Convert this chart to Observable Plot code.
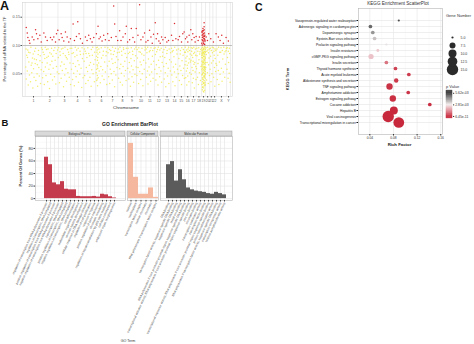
<!DOCTYPE html>
<html><head><meta charset="utf-8">
<script src="https://cdn.jsdelivr.net/npm/d3@7"></script>
<script src="https://cdn.jsdelivr.net/npm/@observablehq/plot@0.6"></script>
<style>
html,body{margin:0;padding:0;background:#fff;}
#fig{position:relative;width:474px;height:344px;overflow:hidden;background:#fff;}
#fig svg{overflow:visible;position:absolute;}
</style></head><body><div id="fig"></div>
<script>
// ---------- Panel A data ----------
const chrNames = ["1","2","3","4","5","6","7","8","9","10","11","12","13","14","15","16","17","18","19","20","21","22","X","Y"];
const chrLengths = [249,243,198,190,181,171,159,145,138,134,135,133,114,107,102,90,83,80,59,64,47,51,156,57];
const threshold = 0.10;
const yTicksA = [0.05, 0.10, 0.15];
// [cumulative position (Mb), percentage]
const redPts = [
[15,0.132],[30,0.122],[40,0.114],[60,0.109],[70,0.104],[105,0.115],[130,0.110],[155,0.128],[170,0.121],[190,0.112],[220,0.118],[240,0.106],
[280,0.122],[305,0.115],[330,0.109],[380,0.114],[405,0.110],[430,0.115],[455,0.106],[470,0.121],
[490,0.127],[510,0.110],[540,0.121],[555,0.114],[580,0.108],[605,0.124],[630,0.115],[655,0.106],[680,0.112],
[720,0.138],[740,0.109],[770,0.116],[790,0.142],[810,0.121],[830,0.112],[860,0.104],
[905,0.115],[930,0.109],[955,0.118],[980,0.112],[1005,0.106],[1030,0.114],
[1070,0.121],[1095,0.134],[1110,0.112],[1130,0.115],[1155,0.108],[1180,0.118],[1205,0.110],
[1240,0.121],[1260,0.109],[1295,0.114],[1330,0.170],[1345,0.138],[1365,0.116],[1390,0.109],
[1420,0.126],[1440,0.109],[1470,0.115],[1505,0.121],[1520,0.134],[1540,0.106],
[1570,0.110],[1595,0.130],[1620,0.114],[1645,0.106],[1670,0.130],
[1695,0.118],[1720,0.172],[1740,0.110],[1770,0.115],[1795,0.122],[1815,0.106],
[1845,0.109],[1870,0.127],[1890,0.115],[1910,0.104],[1930,0.120],
[1955,0.140],[1970,0.112],[1990,0.121],[2010,0.108],[2030,0.104],[2050,0.115],[2070,0.110],
[2105,0.114],[2130,0.106],[2155,0.109],
[2200,0.118],[2220,0.109],[2245,0.139],[2265,0.112],
[2300,0.110],[2320,0.116],[2350,0.106],[2370,0.121],
[2390,0.124],[2410,0.112],[2430,0.115],[2445,0.106],[2465,0.118],
[2490,0.128],[2505,0.110],[2520,0.121],[2540,0.114],[2555,0.106],[2570,0.116],
[2600,0.109],[2620,0.115],
[2655,0.124],[2660,0.118],[2665,0.114],[2670,0.109],[2675,0.106],[2680,0.121],[2685,0.112],[2690,0.140],[2690,0.128],[2695,0.116],
[2700,0.110],[2655,0.104],[2665,0.126],[2675,0.115],[2685,0.104],[2695,0.122],[2660,0.110],[2680,0.103],[2690,0.133],[2700,0.118],
[2670,0.120],[2705,0.108],[2662,0.101],[2668,0.124],[2678,0.117],[2688,0.108],[2698,0.102],[2672,0.130],[2683,0.126],[2693,0.112],
[2720,0.115],[2740,0.109],[2760,0.121],[2790,0.112],[2830,0.106],
[2870,0.121],[2905,0.115],[2930,0.109],[2955,0.118],[2980,0.104],[3020,0.114],[3055,0.108]
];
const yellowPts = [
[8,0.062],[15,0.041],[22,0.083],[30,0.055],[38,0.092],[45,0.030],[55,0.071],[63,0.048],[72,0.087],[80,0.036],[90,0.065],[98,0.052],[108,0.078],[115,0.025],[125,0.059],[133,0.044],[142,0.090],[150,0.068],[160,0.038],[168,0.075],[178,0.050],[186,0.028],[195,0.084],[204,0.061],[212,0.046],[221,0.073],[230,0.033],[240,0.057],
[12,0.094],[34,0.079],[50,0.088],[85,0.097],[102,0.069],[120,0.085],[138,0.076],[155,0.095],[182,0.066],[200,0.091],[226,0.082],[245,0.096],
[255,0.070],[262,0.043],[270,0.088],[278,0.054],[287,0.031],[295,0.077],[303,0.062],[312,0.047],[320,0.093],[330,0.069],[338,0.036],[347,0.081],[356,0.058],[365,0.024],[374,0.066],[383,0.049],[392,0.085],[401,0.072],[410,0.039],[420,0.060],[430,0.091],[440,0.045],[450,0.074],[460,0.032],[470,0.063],[482,0.053],
[258,0.093],[283,0.084],[300,0.097],[325,0.079],[343,0.094],[370,0.087],[396,0.095],[415,0.081],[445,0.096],[465,0.086],[487,0.092],
[498,0.079],[506,0.050],[514,0.034],[522,0.089],[531,0.064],[540,0.042],[549,0.071],[558,0.056],[567,0.095],[576,0.027],[585,0.067],[594,0.048],[603,0.082],[612,0.059],[622,0.037],[632,0.076],[642,0.052],[652,0.088],[662,0.044],[672,0.069],[682,0.031],
[502,0.096],[527,0.083],[545,0.094],[571,0.086],[598,0.097],[618,0.079],[637,0.093],[657,0.084],[677,0.095],
[696,0.058],[704,0.086],[712,0.040],[720,0.068],[729,0.051],[738,0.029],[747,0.080],[756,0.063],[765,0.045],[774,0.092],[783,0.055],[792,0.073],[801,0.035],[810,0.066],[820,0.049],[830,0.084],[840,0.060],[850,0.026],[860,0.077],[870,0.043],
[700,0.095],[725,0.087],[752,0.097],[778,0.083],[797,0.095],[825,0.090],[855,0.096],[875,0.085],
[886,0.072],[894,0.047],[902,0.090],[910,0.033],[919,0.061],[928,0.079],[937,0.054],[946,0.038],[955,0.086],[964,0.065],[973,0.044],[982,0.070],[991,0.028],[1000,0.057],[1010,0.083],[1020,0.050],[1030,0.067],[1040,0.036],[1050,0.075],
[890,0.094],[915,0.086],[941,0.096],[968,0.082],[995,0.093],[1015,0.097],[1045,0.088],
[1066,0.052],[1072,0.081],[1076,0.038],[1080,0.066],[1082,0.092],[1084,0.047],[1086,0.074],[1088,0.029],[1090,0.060],[1093,0.085],[1097,0.043],[1104,0.069],[1112,0.055],[1120,0.088],[1129,0.034],[1138,0.063],[1147,0.078],[1156,0.046],[1165,0.057],[1175,0.090],[1185,0.040],[1195,0.071],[1205,0.053],[1215,0.082],[1225,0.031],
[1068,0.096],[1074,0.058],[1078,0.088],[1081,0.041],[1085,0.097],[1087,0.064],[1091,0.079],[1108,0.094],[1143,0.096],[1170,0.083],[1200,0.097],[1220,0.089],
[1238,0.064],[1246,0.087],[1254,0.045],[1262,0.072],[1270,0.033],[1278,0.058],[1286,0.091],[1294,0.050],[1302,0.076],[1310,0.039],[1318,0.068],[1326,0.084],[1335,0.054],[1344,0.027],[1353,0.070],[1362,0.048],[1371,0.080],[1380,0.061],
[1242,0.096],[1266,0.093],[1290,0.085],[1314,0.097],[1340,0.090],[1357,0.095],[1385,0.087],
[1397,0.075],[1405,0.042],[1413,0.088],[1421,0.059],[1429,0.035],[1437,0.067],[1445,0.051],[1453,0.083],[1462,0.030],[1471,0.063],[1480,0.093],[1489,0.046],[1498,0.072],[1507,0.056],[1516,0.038],[1526,0.079],
[1401,0.094],[1425,0.097],[1449,0.090],[1476,0.096],[1503,0.086],[1521,0.095],
[1542,0.060],[1550,0.086],[1558,0.041],[1566,0.070],[1574,0.053],[1582,0.028],[1590,0.077],[1598,0.064],[1606,0.045],[1614,0.090],[1622,0.057],[1630,0.035],[1640,0.073],[1650,0.049],[1660,0.082],[1668,0.062],
[1546,0.095],[1570,0.088],[1594,0.096],[1618,0.084],[1645,0.094],[1664,0.097],
[1680,0.047],[1688,0.078],[1696,0.061],[1704,0.033],[1712,0.089],[1720,0.054],[1728,0.071],[1736,0.040],[1744,0.066],[1752,0.085],[1760,0.050],[1770,0.029],[1780,0.074],[1790,0.058],[1800,0.092],
[1684,0.093],[1708,0.096],[1732,0.088],[1756,0.095],[1785,0.083],[1804,0.097],
[1814,0.069],[1822,0.044],[1830,0.087],[1838,0.055],[1846,0.032],[1854,0.076],[1862,0.062],[1870,0.048],[1878,0.091],[1886,0.037],[1894,0.067],[1902,0.053],[1912,0.081],[1922,0.042],[1932,0.072],
[1818,0.094],[1842,0.097],[1866,0.089],[1890,0.096],[1917,0.091],[1937,0.095],
[1949,0.058],[1957,0.084],[1965,0.039],[1973,0.066],[1981,0.050],[1989,0.093],[1997,0.030],[2005,0.074],[2013,0.061],[2021,0.045],[2030,0.080],[2040,0.055],[2050,0.035],[2060,0.070],[2069,0.088],
[1953,0.096],[1977,0.089],[2001,0.097],[2025,0.092],[2045,0.095],[2064,0.081],
[2082,0.063],[2090,0.041],[2098,0.079],[2106,0.052],[2114,0.027],[2122,0.068],[2130,0.086],[2140,0.046],[2150,0.060],[2160,0.033],[2170,0.075],[2182,0.055],
[2086,0.093],[2110,0.097],[2135,0.091],[2165,0.094],[2186,0.087],
[2196,0.071],[2204,0.048],[2212,0.089],[2220,0.036],[2228,0.062],[2236,0.080],[2244,0.053],[2252,0.029],[2262,0.067],[2272,0.044],[2282,0.085],[2290,0.058],
[2200,0.095],[2224,0.091],[2248,0.097],[2277,0.092],
[2302,0.050],[2310,0.077],[2318,0.038],[2326,0.064],[2334,0.091],[2342,0.056],[2350,0.031],[2358,0.073],[2366,0.047],[2374,0.083],[2382,0.060],[2392,0.042],
[2306,0.094],[2330,0.085],[2354,0.096],[2378,0.093],[2396,0.088],
[2403,0.066],[2409,0.088],[2414,0.043],[2419,0.072],[2424,0.055],[2429,0.030],[2434,0.081],[2439,0.060],[2444,0.046],[2449,0.094],[2455,0.069],[2461,0.036],[2467,0.076],[2473,0.052],[2480,0.085],
[2406,0.097],[2416,0.078],[2426,0.092],[2436,0.065],[2446,0.089],[2458,0.097],[2470,0.091],[2484,0.071],
[2493,0.074],[2498,0.049],[2503,0.090],[2508,0.061],[2513,0.034],[2518,0.079],[2523,0.056],[2528,0.042],[2533,0.086],[2538,0.067],[2544,0.025],[2550,0.070],[2556,0.053],[2562,0.083],[2568,0.040],
[2495,0.096],[2505,0.083],[2515,0.095],[2525,0.072],[2535,0.097],[2547,0.088],[2559,0.094],[2565,0.063],
[2577,0.059],[2584,0.082],[2591,0.044],[2598,0.068],[2605,0.031],[2612,0.075],[2619,0.052],[2627,0.089],[2635,0.038],[2644,0.063],
[2580,0.095],[2595,0.090],[2609,0.096],[2623,0.085],[2640,0.093],
[2655,0.095],[2656,0.072],[2657,0.048],[2658,0.086],[2659,0.031],[2660,0.064],[2661,0.091],[2662,0.055],[2663,0.022],[2664,0.078],[2665,0.043],[2666,0.069],[2667,0.097],[2668,0.036],[2669,0.060],[2670,0.083],[2671,0.051],[2672,0.027],[2673,0.074],[2674,0.089],[2675,0.040],[2676,0.066],[2677,0.093],[2678,0.057],[2679,0.019],[2680,0.080],[2681,0.046],[2682,0.071],[2683,0.034],[2684,0.087],[2685,0.062],[2686,0.025],[2687,0.076],[2688,0.053],[2689,0.094],[2690,0.038],[2691,0.068],[2692,0.084],[2693,0.029],[2694,0.059],[2695,0.090],[2696,0.045],[2697,0.073],[2698,0.021],[2699,0.063],[2700,0.081],[2701,0.050],[2702,0.035],[2703,0.096],[2704,0.067],[2705,0.042],[2706,0.077],[2707,0.054],[2708,0.088],[2709,0.030],[2710,0.070],
[2654,0.083],[2656,0.058],[2658,0.066],[2660,0.079],[2662,0.088],[2664,0.049],[2666,0.085],[2668,0.071],[2670,0.041],[2672,0.092],[2674,0.062],[2676,0.052],[2678,0.087],[2680,0.033],[2682,0.095],[2684,0.070],[2686,0.081],[2688,0.044],[2690,0.086],[2692,0.056],[2694,0.075],[2696,0.098],[2698,0.061],[2700,0.047],[2702,0.089],[2704,0.079],[2706,0.058],[2708,0.093],[2710,0.049],[2667,0.026],[2687,0.018],[2697,0.032],
[2716,0.061],[2722,0.084],[2728,0.039],[2734,0.070],[2740,0.052],[2746,0.092],[2752,0.033],[2758,0.066],[2764,0.078],[2770,0.047],
[2719,0.096],[2731,0.090],[2743,0.097],[2755,0.087],[2767,0.094],
[2780,0.058],[2787,0.081],[2794,0.036],[2801,0.069],[2808,0.050],[2815,0.087],
[2784,0.095],[2798,0.091],[2812,0.097],
[2827,0.073],[2833,0.044],[2839,0.090],[2845,0.061],[2851,0.028],[2857,0.077],[2863,0.054],[2869,0.068],
[2830,0.096],[2842,0.083],[2854,0.094],[2866,0.091],
[2880,0.065],[2888,0.040],[2896,0.083],[2904,0.056],[2912,0.031],[2920,0.071],[2930,0.049],[2940,0.088],[2950,0.060],[2960,0.037],[2970,0.076],[2980,0.053],[2990,0.085],[3000,0.044],[3010,0.067],[3020,0.091],
[2884,0.094],[2908,0.097],[2925,0.088],[2945,0.096],[2965,0.091],[2985,0.097],[3005,0.089],[3025,0.095],
[3034,0.058],[3042,0.079],[3050,0.042],[3058,0.070],[3066,0.051],[3074,0.086],[3081,0.035],
[3038,0.096],[3054,0.090],[3070,0.095]
];

// ---------- Panel B data ----------
const bpTerms = ["regulation of transcription from RNA polymerase II promoter","regulation of transcription, DNA-templated","positive regulation of transcription from RNA polymerase II promoter","negative regulation of transcription from RNA polymerase II promoter","transcription, DNA-templated","positive regulation of transcription, DNA-templated","negative regulation of transcription, DNA-templated","cell differentiation","multicellular organism development","nervous system development","cellular response to DNA damage stimulus","regulation of cell proliferation","response to hypoxia","positive regulation of gene expression","chromatin remodeling","regulation of signal transduction by p53 class mediator","cell fate commitment","embryonic organ morphogenesis"];
const bpValues = [66, 54, 25, 22, 27, 15, 14, 14, 3.5, 3, 3, 3, 3.5, 2.5, 7, 6, 3, 1];
const ccTerms = ["nucleus","nucleoplasm","transcription factor complex","nuclear chromatin","chromatin","RNA polymerase II transcription factor complex"];
const ccValues = [88, 34, 7, 7, 17, 2];
const mfTerms = ["DNA binding","transcription factor activity, sequence-specific DNA binding","sequence-specific DNA binding","metal ion binding","RNA polymerase II core promoter proximal region sequence-specific DNA binding","transcriptional activator activity, RNA polymerase II core promoter proximal region sequence-specific binding","zinc ion binding","chromatin binding","transcription coactivator activity","transcription factor binding","transcriptional repressor activity, RNA polymerase II core promoter proximal region sequence-specific binding","protein heterodimerization activity","RNA polymerase II transcription factor activity, sequence-specific DNA binding","transcription corepressor activity","histone acetyltransferase activity"];
const mfValues = [54, 59, 28, 46, 30, 17, 14, 12, 11, 10, 8, 7, 10, 8, 6];
const goTicks = [0, 20, 40, 60, 80];

// ---------- Panel C data ----------
const keggTerms = ["Vasopressin-regulated water reabsorption","Adrenergic signaling in cardiomyocytes","Dopaminergic synapse","Epstein-Barr virus infection","Prolactin signaling pathway","Insulin resistance","cGMP-PKG signaling pathway","Insulin secretion","Thyroid hormone synthesis","Acute myeloid leukemia","Aldosterone synthesis and secretion","TNF signaling pathway","Amphetamine addiction","Estrogen signaling pathway","Cocaine addiction","Hepatitis B","Viral carcinogenesis","Transcriptional misregulation in cancer"];
const keggRich = [0.089, 0.041, 0.045, 0.048, 0.068, 0.0535, 0.042, 0.068, 0.0834, 0.106, 0.0846, 0.0733, 0.105, 0.0789, 0.1415, 0.0806, 0.0711, 0.089];
const keggCount = [5, 6, 6, 6, 5, 5.5, 7, 6, 6, 6, 6.5, 8, 6, 8, 6, 10, 15, 14];
const keggP = [5.3e-3, 4.9e-3, 4.2e-3, 3.5e-3, 3.0e-3, 2.3e-3, 2.2e-3, 1.1e-3, 4.0e-4, 3.0e-4, 2.5e-4, 1.5e-4, 2.0e-4, 1.0e-4, 1.2e-4, 5e-6, 6.45e-11, 1e-8];
const sizeBreaks = [5, 7.5, 10, 12.5, 15];
const pBreaks = [6.45e-11, 2.81e-3, 5.62e-3];

// ---------- helpers ----------
const fig = document.getElementById("fig");
const FONT = "Liberation Sans, Arial, sans-serif";
const baseStyle = (fs) => ({fontFamily: FONT, fontSize: fs + "px", background: "transparent", color: "#333"});
function place(el, left, top) { el.style.left = left + "px"; el.style.top = top + "px"; fig.appendChild(el); }

// ---------- Panel A ----------
const starts = []; let acc = 0;
chrLengths.forEach(l => { starts.push(acc); acc += l; });
const centers = chrLengths.map((l, i) => starts[i] + l / 2);
const bounds = [...starts, acc];

const plotA = Plot.plot({
  width: 240, height: 112, marginLeft: 22, marginRight: 8, marginTop: 2, marginBottom: 16,
  style: baseStyle(4),
  x: {domain: [-41, 3117]},
  y: {domain: [0.0099, 0.176]},
  marks: [
    Plot.ruleY(yTicksA.filter(v => v !== threshold), {stroke: "#ececec", strokeWidth: 0.6}),
    Plot.ruleX(bounds, {stroke: "#e0e0e0", strokeWidth: 0.6}),
    Plot.dot(yellowPts, {x: d => d[0], y: d => d[1], r: 0.75, fill: "#efea4a", fillOpacity: 0.8}),
    Plot.ruleY([threshold], {stroke: "#9a9a9a", strokeWidth: 0.6}),
    Plot.dot(redPts, {x: d => d[0], y: d => d[1], r: 0.75, fill: "#dc2a2e"}),
    Plot.frame({stroke: "#d4d4d4", strokeWidth: 0.6}),
    Plot.axisX({ticks: centers, tickFormat: d => chrNames[centers.indexOf(d)], tickSize: 1.5, tickPadding: 1, fontSize: 3.6, label: null, color: "#555"}),
    Plot.axisY({ticks: yTicksA, tickFormat: ".2f", tickSize: 1.5, tickPadding: 1, fontSize: 3.8, label: null, color: "#555"})
  ]
});
place(plotA, 0, 0);

// ---------- Panel B ----------
function goPlot(terms, values, color, left, width, withY) {
  const rows = terms.map((t, i) => ({t, v: values[i]}));
  const p = Plot.plot({
    width, height: 208, marginLeft: withY ? 35 : 0, marginRight: 0, marginTop: 0, marginBottom: 144,
    style: baseStyle(3),
    x: {type: "band", domain: terms, paddingInner: 0.1, paddingOuter: 0.15},
    y: {domain: [-3, 99], axis: withY ? undefined : null},
    marks: [
      Plot.gridY({ticks: [10, 30, 50, 70, 90], stroke: "#f2f2f2", strokeOpacity: 1, strokeWidth: 0.4}),
      Plot.gridY({ticks: goTicks, stroke: "#e2e2e2", strokeOpacity: 1, strokeWidth: 0.6}),
      Plot.gridX({stroke: "#e2e2e2", strokeOpacity: 1, strokeWidth: 0.6}),
      Plot.barY(rows, {x: "t", y: "v", fill: color}),
      Plot.frame({stroke: "#b5b5b5", strokeWidth: 0.6}),
      Plot.axisX({tickRotate: -65, fontSize: 3, tickSize: 1.5, tickPadding: 0.5, label: null, color: "#444"}),
      withY ? Plot.axisY({ticks: goTicks, fontSize: 4, tickSize: 1.5, tickPadding: 1, label: null, color: "#333"}) : null
    ]
  });
  place(p, left, 136);
}
goPlot(bpTerms, bpValues, "#c43b4d", 0, 125, true);
goPlot(ccTerms, ccValues, "#f5b79d", 127, 31, false);
goPlot(mfTerms, mfValues, "#5b5b5b", 160, 72, false);

// ---------- Panel C ----------
const rScale = {type: "linear", domain: sizeBreaks, range: [1.1, 3, 4, 4.85, 5.7]};
const cScale = {type: "linear", domain: pBreaks, range: ["#c8283c", "#f4eded", "#3b3b3b"], clamp: true};
const keggRows = keggTerms.map((t, i) => ({t, rich: keggRich[i], n: keggCount[i], p: keggP[i]}));
const plotC = Plot.plot({
  width: 202, height: 150, marginLeft: 118, marginRight: 0, marginTop: 8, marginBottom: 16,
  style: baseStyle(3.3),
  x: {domain: [0.0208, 0.163]},
  y: {type: "point", domain: keggTerms, padding: 1.19},
  r: rScale,
  color: cScale,
  marks: [
    Plot.gridX({ticks: [0.06, 0.10, 0.14], stroke: "#f3f3f3", strokeOpacity: 1, strokeWidth: 0.4}),
    Plot.gridX({ticks: [0.04, 0.08, 0.12, 0.16], stroke: "#e4e4e4", strokeOpacity: 1, strokeWidth: 0.6}),
    Plot.gridY({stroke: "#e4e4e4", strokeOpacity: 1, strokeWidth: 0.6}),
    Plot.dot(keggRows, {x: "rich", y: "t", r: "n", fill: "p"}),
    Plot.frame({stroke: "#b5b5b5", strokeWidth: 0.6}),
    Plot.axisX({ticks: [0.04, 0.08, 0.12, 0.16], tickFormat: ".2f", fontSize: 3.3, tickSize: 1.5, tickPadding: 1, label: null, color: "#333"}),
    Plot.axisY({fontSize: 3.3, tickSize: 1.5, tickPadding: 1, label: null, color: "#111"})
  ]
});
place(plotC, 240, 0);

// size legend
const sizeLeg = Plot.plot({
  width: 30, height: 50, marginLeft: 0, marginRight: 10, marginTop: 10, marginBottom: 5,
  style: baseStyle(3.5),
  x: {domain: [0, 1], axis: null},
  y: {type: "point", domain: sizeBreaks, padding: 0, axis: null},
  r: rScale,
  marks: [
    Plot.dot(sizeBreaks, {x: () => 0.5, y: d => d, r: d => d, fill: "#2b2b2b"}),
    Plot.text(sizeBreaks, {x: () => 0.5, y: d => d, text: d => d.toFixed(1), dx: 8, textAnchor: "start", fill: "#333"})
  ]
});
place(sizeLeg, 442, 25);

// colour legend
const fmtE = v => v.toExponential(2).replace(/e([+-])(\d)$/, "e$10$2");
const gradStops = d3.ticks(-5e-4, 6.3e-3, 60);
const gradRows = gradStops.slice(0, -1).map((v, i) => ({y1: v, y2: gradStops[i + 1], m: (v + gradStops[i + 1]) / 2}));
const colLeg = Plot.plot({
  width: 34, height: 40, marginLeft: 6, marginRight: 22, marginTop: 5, marginBottom: 7,
  style: baseStyle(3.4),
  x: {domain: [0, 1], axis: null},
  y: {domain: [-5e-4, 6.3e-3]},
  color: cScale,
  marks: [
    Plot.rect(gradRows, {x1: 0, x2: 1, y1: "y1", y2: "y2", fill: "m", stroke: "m", strokeWidth: 0.3}),
    Plot.axisY({anchor: "right", ticks: pBreaks, tickFormat: fmtE, tickSize: 1.2, tickPadding: 1.5, label: null, color: "#333"})
  ]
});
place(colLeg, 440, 85);

// ---------- Overlay text (titles, labels, strips) ----------
const ov = d3.create("svg").attr("width", 474).attr("height", 344)
  .style("left", "0px").style("top", "0px").style("pointer-events", "none")
  .attr("font-family", FONT);
function txt(s, x, y, size, opt = {}) {
  const t = ov.append("text").attr("x", x).attr("y", y).attr("font-size", size)
    .attr("fill", opt.fill || "#222").attr("text-anchor", opt.anchor || "middle")
    .attr("dominant-baseline", opt.baseline || "central").attr("font-weight", opt.weight || "normal").text(s);
  if (opt.rotate) t.attr("transform", `rotate(${opt.rotate},${x},${y})`);
  return t;
}
txt("A", 0, 9.5, 12.5, {anchor: "start", baseline: "auto", weight: "bold", fill: "#111"});
txt("B", 1.5, 126, 9.5, {anchor: "start", baseline: "auto", weight: "bold", fill: "#111"});
txt("C", 255, 11, 10.5, {anchor: "start", baseline: "auto", weight: "bold", fill: "#111"});
txt("Percentage of sRNA related to the TF", 4.5, 49, 3.9, {rotate: -90, fill: "#333"});
txt("Chromosome", 126, 107.5, 4.3, {fill: "#333"});
txt("GO Enrichment BarPlot", 130, 123.5, 5, {weight: "bold"});
txt("Percent Of Genes (%)", 20, 166, 4, {rotate: -90, weight: "bold"});
const strips = [["Biological Process", 35, 125], ["Cellular Component", 127, 158], ["Molecular Function", 160, 232]];
strips.forEach(([s, a, b]) => {
  ov.append("rect").attr("x", a).attr("y", 131).attr("width", b - a).attr("height", 5)
    .attr("fill", "#d9d9d9").attr("stroke", "#8a8a8a").attr("stroke-width", 0.4);
  txt(s, (a + b) / 2, 133.6, 2.8, {fill: "#222"});
});
txt("GO Term", 128, 341, 3.6, {fill: "#333"});
txt("KEGG Enrichment ScatterPlot", 398, 3.2, 4.6, {fill: "#333"});
txt("KEGG Term", 287, 79, 4, {rotate: -90, weight: "bold"});
txt("Rich Factor", 399.5, 144.5, 4.3, {weight: "bold"});
txt("Gene Number", 446, 15.5, 4, {anchor: "start", fill: "#333"});
txt("p Value", 446, 86, 4, {anchor: "start", fill: "#333"});
fig.appendChild(ov.node());
</script></body></html>
